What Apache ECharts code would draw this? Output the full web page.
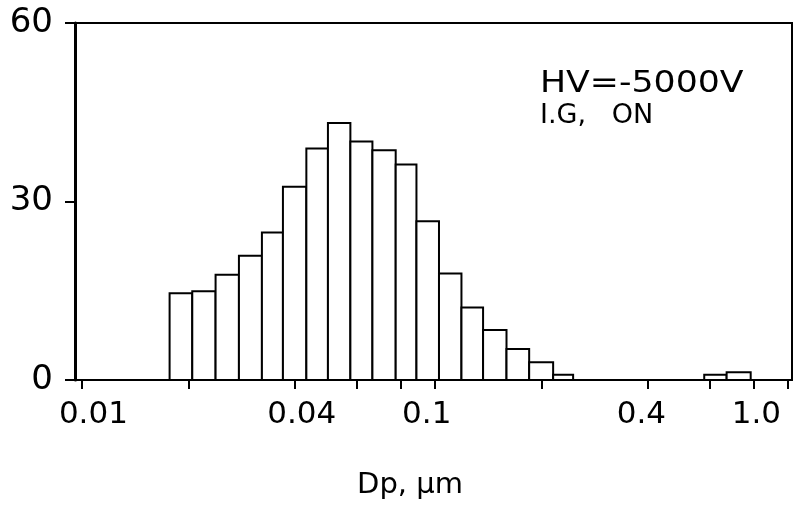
<!DOCTYPE html>
<html>
<head>
<meta charset="utf-8">
<script src="https://cdn.jsdelivr.net/npm/echarts@6/dist/echarts.min.js"></script>
<style>
html,body{margin:0;padding:0;background:#fff;}
#chart{width:795px;height:506px;}
</style>
</head>
<body>
<div id="chart"></div>
<script>
const binLo = [0.01769, 0.02051, 0.02388, 0.02781, 0.03231, 0.03706, 0.04318, 0.04971, 0.05755, 0.06645,
               0.07735, 0.08857, 0.1026, 0.1188, 0.1368, 0.1594, 0.1848, 0.2161, 0.5792, 0.6704];
const binHi = [0.02051, 0.02388, 0.02781, 0.03231, 0.03706, 0.04318, 0.04971, 0.05755, 0.06645, 0.07735,
               0.08857, 0.1026, 0.1188, 0.1368, 0.1594, 0.1848, 0.2161, 0.2462, 0.6704, 0.7843];
const counts = [14.6, 14.9, 17.7, 20.9, 24.8, 32.5, 38.9, 43.2, 40.1, 38.6,
                36.2, 26.7, 17.9, 12.2, 8.4, 5.2, 3.0, 0.9, 0.9, 1.3];

// Axis tick marks (Dp, µm)
const xTicks = [0.01, 0.02, 0.04, 0.06, 0.08, 0.1, 0.2, 0.4, 0.6, 0.8, 1.0];
// Tick labels and where their centres sit on the axis (Dp, µm)
const xTickLabels = ['0.01', '0.04', '0.1', '0.4', '1.0'];
const xLabelPos = [0.01076, 0.04188, 0.0947, 0.3845, 0.814];
const xMin = 0.009542, xMax = 1.027;

const yTicks = [0, 30, 60];

const L = v => Math.log10(v);
const data = counts.map((c, i) => [L(binLo[i]), L(binHi[i]), c]);
const labelLogs = xLabelPos.map(L);

const FONT = 'DejaVu Sans';
const chart = echarts.init(document.getElementById('chart'), null, {renderer: 'canvas'});
chart.setOption({
  animation: false,
  backgroundColor: '#fff',
  grid: {
    left: 75, right: 3, top: 23, bottom: 126,
    show: true, borderColor: '#000', borderWidth: 2,
    containLabel: false, outerBoundsMode: 'none'
  },
  xAxis: {
    type: 'value',
    min: L(xMin), max: L(xMax),
    axisLine: {show: true, onZero: false, lineStyle: {color: '#000', width: 2}},
    axisTick: {show: true, inside: false, length: 9, lineStyle: {color: '#000', width: 2},
               customValues: xTicks.map(L)},
    axisLabel: {
      show: true, margin: 19, color: '#000', fontFamily: FONT, fontSize: 31,
      customValues: labelLogs,
      formatter: function (v) {
        for (let i = 0; i < labelLogs.length; i++) {
          if (Math.abs(labelLogs[i] - v) < 1e-6) return xTickLabels[i];
        }
        return '';
      }
    },
    splitLine: {show: false},
    name: 'Dp, μm',
    nameLocation: 'middle',
    nameGap: 91,
    nameTextStyle: {color: '#000', fontFamily: FONT, fontSize: 29, padding: [0, 47, 0, 0]}
  },
  yAxis: {
    type: 'value',
    min: 0, max: 60, interval: 30,
    axisLine: {show: true, onZero: false, lineStyle: {color: '#000', width: 3}},
    axisTick: {show: true, inside: false, length: 10, lineStyle: {color: '#000', width: 2}},
    axisLabel: {show: true, margin: 22, color: '#000', fontFamily: FONT, fontSize: 34,
                padding: [4, 0, 0, 0],
                formatter: v => (yTicks.indexOf(v) >= 0 ? String(v) : '')},
    splitLine: {show: false}
  },
  series: [{
    type: 'custom',
    data: data,
    encode: {x: [0, 1], y: 2},
    renderItem: function (params, api) {
      const p0 = api.coord([api.value(0), 0]);
      const p1 = api.coord([api.value(1), api.value(2)]);
      return {
        type: 'rect',
        shape: {x: p0[0], y: p1[1], width: p1[0] - p0[0], height: p0[1] - p1[1]},
        style: {fill: '#fff', stroke: '#000', lineWidth: 2}
      };
    }
  }],
  graphic: [
    {type: 'text', x: 540, y: 84, z: 100, scaleX: 1.12,
     style: {text: 'HV=-5000V', fill: '#000', fontFamily: FONT, fontSize: 31,
             align: 'left', verticalAlign: 'middle', textAlign: 'left', textVerticalAlign: 'middle'}},
    {type: 'text', x: 540, y: 116, z: 100,
     style: {text: 'I.G,   ON', fill: '#000', fontFamily: FONT, fontSize: 27,
             align: 'left', verticalAlign: 'middle', textAlign: 'left', textVerticalAlign: 'middle'}}
  ]
});
</script>
</body>
</html>
